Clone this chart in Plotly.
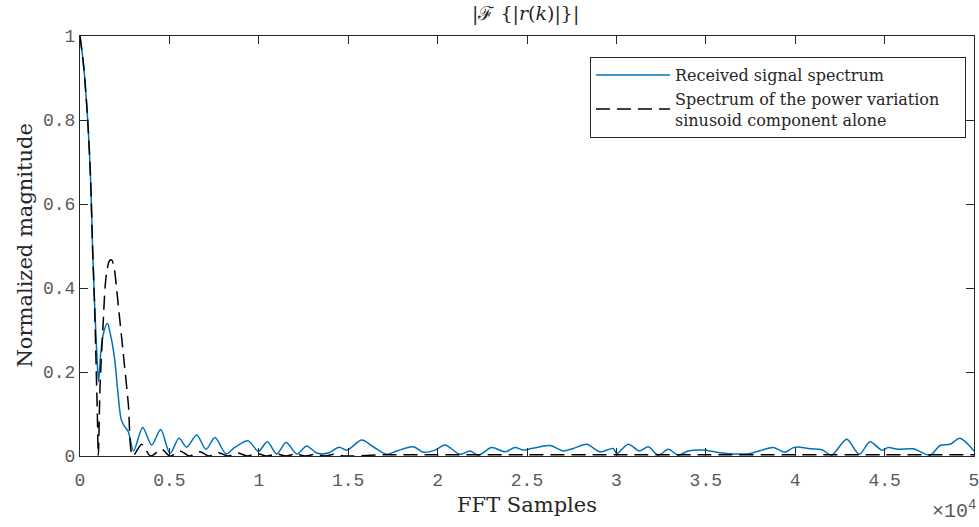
import plotly.graph_objects as go

# Received signal spectrum (blue)
rx_x = [0, 200, 430, 600, 700, 800, 900, 980, 1040, 1150, 1300, 1530, 1700, 1940, 2100, 2310, 2500, 2700, 3000,
        3505, 4008, 4512, 5034, 5537, 5966, 6525, 7047, 7550, 8166, 8669, 9415, 9974, 10480, 11000, 11530,
        12130, 12679, 13237, 13888, 14490, 14930, 15755, 16404, 17154, 17713, 18641, 19201, 19855,
        20414, 21253, 21813, 22277, 23026, 23770, 24330, 24794, 25169, 26287, 27031, 27590, 28340, 29084, 29828,
        30018, 30666, 31282, 31785, 32344, 32904, 33463, 34022, 34861, 35611, 36539, 37473, 38776, 39431, 39895,
        40270, 40829, 41483, 42042, 42881, 43586, 44185, 44839, 45208, 45768, 46607, 47541, 48100, 48659, 49218, 50000]
rx_y = [1.0, 0.93, 0.80, 0.65, 0.50, 0.38, 0.28, 0.21, 0.177, 0.24, 0.29, 0.316, 0.29, 0.23, 0.16, 0.086, 0.07, 0.058, 0.012,
        0.068, 0.026, 0.063, 0.006, 0.042, 0.021, 0.050, 0.016, 0.044, 0.005, 0.021, 0.036, 0.011, 0.034, 0.005, 0.032,
        0.005, 0.024, 0.007, 0.007, 0.021, 0.014, 0.038, 0.022, 0.004, 0.012, 0.022, 0.009, 0.014,
        0.026, 0.004, 0.012, 0.002, 0.020, 0.010, 0.020, 0.014, 0.017, 0.025, 0.012, 0.018, 0.028, 0.010, 0.018,
        0.006, 0.028, 0.012, 0.022, 0.002, 0.016, 0.002, 0.012, 0.014, 0.009, 0.005, 0.006, 0.020, 0.009, 0.020,
        0.021, 0.017, 0.015, 0.002, 0.040, 0.004, 0.034, 0.014, 0.020, 0.016, 0.017, 0.002, 0.025, 0.028, 0.042, 0.012]

# Power variation sinusoid spectrum alone (black dashed)
pv_x = [0, 200, 430, 600, 700, 800, 900, 970, 1025, 1120, 1300, 1400, 1500, 1650, 1770, 1900, 2150, 2420, 2700, 2950,
        3450, 3950, 4570, 5030, 5590, 6110, 6710, 7200, 7750, 8280, 8830, 9360, 9900, 10440, 11000, 11520,
        12060, 12600, 13140, 13680, 14220, 14760, 17000, 20000, 25000, 30000, 35000, 40000, 45000, 50000]
pv_y = [1.0, 0.93, 0.80, 0.65, 0.50, 0.38, 0.22, 0.10, 0.0, 0.165, 0.32, 0.40, 0.44, 0.465, 0.467, 0.45, 0.355, 0.244, 0.125, 0.0,
        0.028, 0.0, 0.016, 0.0, 0.012, 0.0, 0.010, 0.0, 0.008, 0.0, 0.007, 0.0, 0.006, 0.0, 0.005, 0.0,
        0.005, 0.0, 0.004, 0.0, 0.004, 0.0, 0.003, 0.003, 0.003, 0.003, 0.003, 0.003, 0.003, 0.003]

x_tickvals = [0, 5000, 10000, 15000, 20000, 25000, 30000, 35000, 40000, 45000, 50000]
x_ticktext = ["0", "0.5", "1", "1.5", "2", "2.5", "3", "3.5", "4", "4.5", "5"]
y_tickvals = [0, 0.2, 0.4, 0.6, 0.8, 1]
y_ticktext = ["0", "0.2", "0.4", "0.6", "0.8", "1"]

serif = "DejaVu Serif"
mono = "Liberation Mono"
axis_col = "#262626"
tick_col = "#5a5a5a"

fig = go.Figure()
fig.add_trace(go.Scatter(
    x=rx_x, y=rx_y, mode="lines", name="Received signal spectrum",
    line=dict(color="#0072BD", width=1.5, shape="spline", smoothing=0.8),
))
fig.add_trace(go.Scatter(
    x=pv_x, y=pv_y, mode="lines",
    name="Spectrum of the power variation\u00a0\u00a0\u00a0\u00a0<br>sinusoid component alone",
    line=dict(color="black", width=1.5, dash="14px,7px", shape="spline", smoothing=0.8),
))

fig.update_layout(
    width=979, height=527,
    margin=dict(l=80, r=5, t=36, b=71),
    plot_bgcolor="white", paper_bgcolor="white",
    font=dict(family=serif, color="#262626"),
    title=dict(text="|ℱ {|<i>r</i>(<i>k</i>)|}|", x=0.537, xanchor="center",
               yref="container", y=0.975, yanchor="middle",
               font=dict(family=serif, size=19, color="#262626")),
    legend=dict(x=0.991, xanchor="right", y=0.95, yanchor="top",
                bgcolor="white", bordercolor=axis_col, borderwidth=1,
                font=dict(family=serif, size=16, color="#262626"),
                tracegroupgap=0, itemwidth=74),
    showlegend=True,
)
fig.update_xaxes(
    range=[0, 50000], tickvals=x_tickvals, ticktext=x_ticktext, automargin=False,
    showgrid=False, zeroline=False, showline=True, linecolor=axis_col, linewidth=1.2,
    mirror="ticks", ticks="inside", ticklen=8, tickcolor=axis_col, tickwidth=1.2,
    ticklabelstandoff=7, ticklabeloverflow="allow",
    tickfont=dict(family=mono, size=18, color=tick_col),
)
fig.update_yaxes(
    range=[0, 1], tickvals=y_tickvals, ticktext=y_ticktext, automargin=False,
    showgrid=False, zeroline=False, showline=True, linecolor=axis_col, linewidth=1.2,
    mirror="ticks", ticks="inside", ticklen=8, tickcolor=axis_col, tickwidth=1.2,
    ticklabeloverflow="allow",
    tickfont=dict(family=mono, size=18, color=tick_col),
)

fig.add_annotation(text="FFT Samples", xref="paper", yref="paper", x=0.5, y=-0.117,
                   xanchor="center", yanchor="middle", showarrow=False,
                   font=dict(family=serif, size=21, color="#262626"))
fig.add_annotation(text="Normalized magnitude", xref="paper", yref="paper", x=-0.062, y=0.5,
                   xanchor="center", yanchor="middle", textangle=-90, showarrow=False,
                   font=dict(family=serif, size=21, color="#262626"))
fig.add_annotation(text="×10<sup>4</sup>", xref="paper", yref="paper", x=1.004, y=-0.165,
                   xanchor="right", yanchor="bottom", showarrow=False,
                   font=dict(family=mono, size=20, color=tick_col))

# the page body has a default 8px margin; drop it so the figure sits at the window origin
fig.write_html("out.html", config={"displayModeBar": False},
               post_script="document.body.style.margin = '0';")
